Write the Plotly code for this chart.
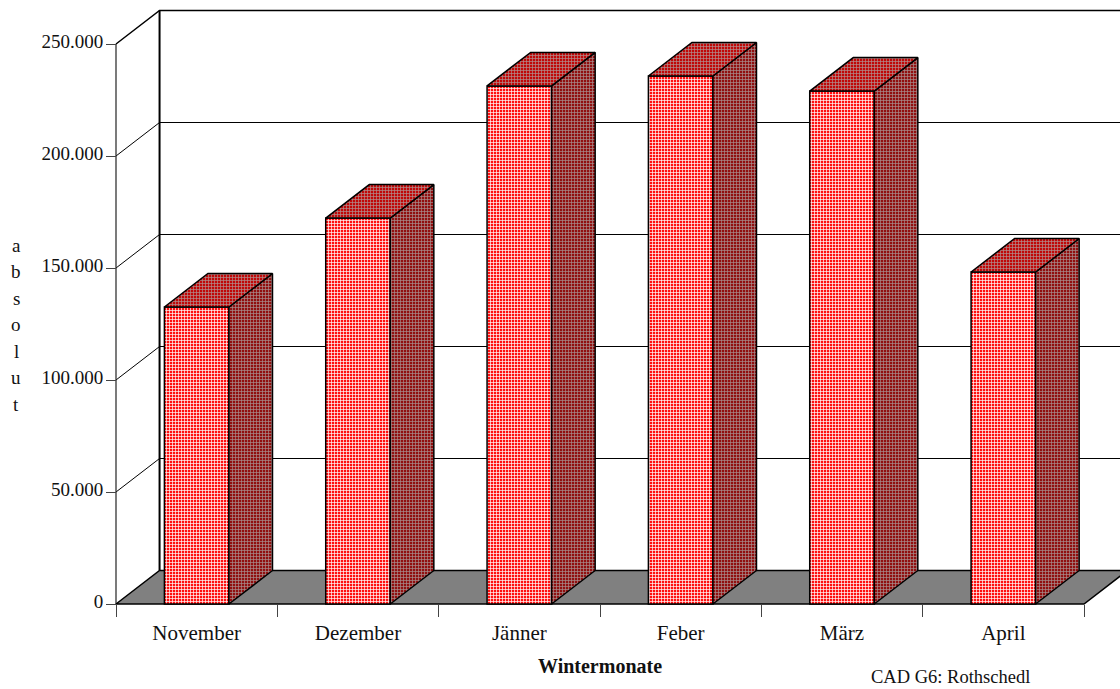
import plotly.graph_objects as go

# Winter months and absolute counts
months = ["November", "Dezember", "Jänner", "Feber", "März", "April"]
counts = [132600, 172300, 231300, 235700, 229000, 148200]
y_ticks = [0, 50000, 100000, 150000, 200000, 250000]
y_tick_labels = ["0", "50.000", "100.000", "150.000", "200.000", "250.000"]
y_title_letters = list("absolut")

# Pseudo-3D extrusion in axis units
DEPTH_X = 0.27
DEPTH_Y = 14955
BAR_WIDTH = 0.4
FONT = "Liberation Serif"
X_LO, X_HI = -0.5, 5.5
Y_LO, Y_HI = y_ticks[0], y_ticks[-1]

# The axes span the whole page so the extruded back wall can run past the front frame
WIDTH, HEIGHT = 1120, 689
FRAME_L, FRAME_R, FRAME_T, FRAME_B = 116, 1084, 44, 604
PX_PER_CAT = (FRAME_R - FRAME_L) / (X_HI - X_LO)
PX_PER_UNIT = (FRAME_B - FRAME_T) / (Y_HI - Y_LO)
x_range = [X_LO - FRAME_L / PX_PER_CAT, X_LO + (WIDTH - FRAME_L) / PX_PER_CAT]
y_range = [Y_LO - (HEIGHT - FRAME_B) / PX_PER_UNIT, Y_LO + FRAME_B / PX_PER_UNIT]

fig = go.Figure()


def line(xs, ys, width=1.0, color="#000000"):
    fig.add_trace(go.Scatter(x=xs, y=ys, mode="lines", hoverinfo="skip",
                             line=dict(color=color, width=width)))


def face(xs, ys, bg, fg, solidity, zorder=2):
    fig.add_trace(go.Scatter(x=xs + xs[:1], y=ys + ys[:1], mode="lines", fill="toself",
                             hoverinfo="skip", zorder=zorder,
                             line=dict(color="#000000", width=1.5),
                             fillcolor=bg,
                             fillpattern=dict(shape="+", size=3, solidity=solidity,
                                              fgcolor=fg, bgcolor=bg, fillmode="replace")))


# Back wall grid and the diagonals running back from the value axis
for v in y_ticks[1:]:
    width = 1.5 if v == Y_HI else 1.0
    line([X_LO, X_LO + DEPTH_X, X_HI + DEPTH_X],
         [v, v + DEPTH_Y, v + DEPTH_Y], width=width)
line([X_LO + DEPTH_X, X_LO + DEPTH_X], [DEPTH_Y, Y_HI + DEPTH_Y], width=2)

# Value axis line
line([X_LO, X_LO], [Y_LO, Y_HI], width=1.2, color="#222222")

# Floor
fig.add_trace(go.Scatter(
    x=[X_LO, X_HI, X_HI + DEPTH_X, X_LO + DEPTH_X, X_LO],
    y=[0, 0, DEPTH_Y, DEPTH_Y, 0],
    mode="lines", fill="toself", fillcolor="#808080", hoverinfo="skip",
    line=dict(color="#000000", width=1.5)))

# Front faces of the columns
fig.add_trace(go.Bar(
    x=list(range(len(months))), y=counts, width=BAR_WIDTH, zorder=1, hoverinfo="skip",
    marker=dict(color="#ff0000", line=dict(color="#000000", width=1.5),
                pattern=dict(shape="+", size=3, solidity=0.4,
                             fgcolor="#ffffff", bgcolor="#ff1010", fillmode="replace")),
))

# Side and top faces of the columns
for i, v in enumerate(counts):
    left, right = i - BAR_WIDTH / 2, i + BAR_WIDTH / 2
    face([right, right + DEPTH_X, right + DEPTH_X, right],
         [0, DEPTH_Y, v + DEPTH_Y, v], "#901010", "#a89090", 0.4)
    face([left, right, right + DEPTH_X, left + DEPTH_X],
         [v, v, v + DEPTH_Y, v + DEPTH_Y], "#c00808", "#b09090", 0.4)

fig.update_layout(
    width=WIDTH, height=HEIGHT, autosize=False, showlegend=False,
    margin=dict(l=0, r=0, t=0, b=0, pad=0),
    paper_bgcolor="#ffffff", plot_bgcolor="#ffffff",
    font=dict(family=FONT, size=19, color="#111111"),
    xaxis=dict(
        range=x_range, showgrid=False, zeroline=False, showline=False,
        anchor="free", position=(HEIGHT - FRAME_B) / HEIGHT, tickfont=dict(size=21),
        tickmode="array", tickvals=list(range(len(months))), ticktext=months,
        ticks="outside", ticklen=10, tickcolor="rgba(0,0,0,0)",
        minor=dict(tickmode="array", tickvals=[i - 0.5 for i in range(len(months) + 1)],
                   ticks="outside", ticklen=12, tickcolor="#444444", tickwidth=1,
                   showgrid=False),
    ),
    yaxis=dict(
        range=y_range, showgrid=False, zeroline=False, showline=False,
        anchor="free", position=FRAME_L / WIDTH, tickfont=dict(size=19),
        tickmode="array", tickvals=y_ticks, ticktext=y_tick_labels,
        ticks="outside", ticklen=10, tickcolor="#444444", tickwidth=1,
        ticklabelshift=-3, ticklabelstandoff=-1,
    ),
)


def caption(text, px, py, size):
    """Free-standing text placed by its pixel centre on the page."""
    fig.add_annotation(
        text=text, xref="paper", yref="paper", showarrow=False,
        x=px / WIDTH, y=(HEIGHT - py) / HEIGHT,
        xanchor="center", yanchor="middle",
        font=dict(family=FONT, size=size, color="#111111"))


caption("<b>Wintermonate</b>", 600, 666, 20)
caption("CAD G6: Rothschedl", 950, 677, 18.5)
for k, letter in enumerate(y_title_letters):
    caption(letter, 16, 245 + 26.5 * k, 19)

fig.write_html("out.html")
